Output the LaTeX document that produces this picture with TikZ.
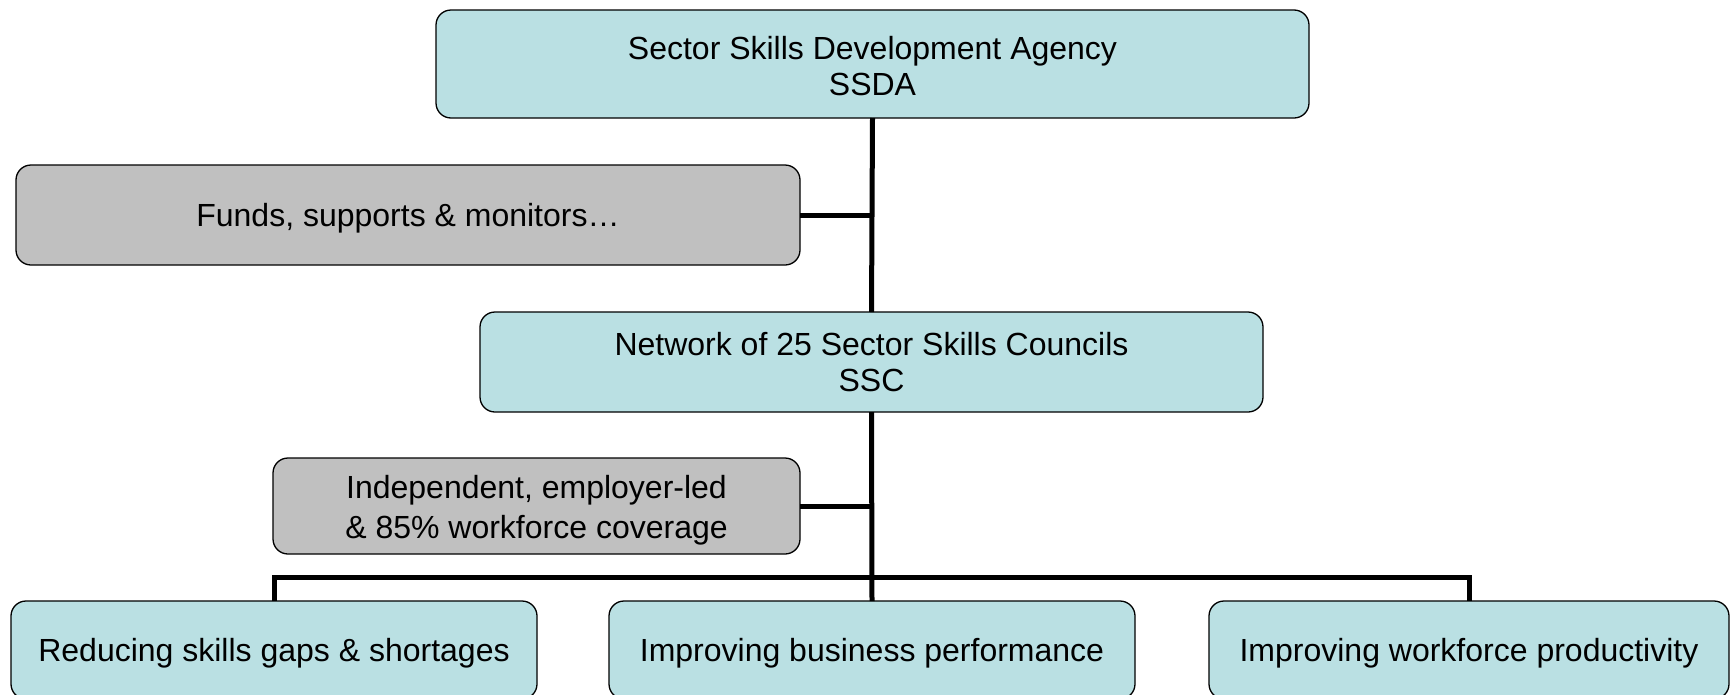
\documentclass[tikz,border=0pt]{standalone}
\usepackage{fontspec}
\setmainfont{Liberation Sans}
\definecolor{boxcyan}{RGB}{186,224,227}
\definecolor{boxgray}{RGB}{192,192,192}
\newcommand{\lowertext}[2]{\raisebox{-#1}[\height][\depth]{\begin{tabular}{@{}c@{}}#2\end{tabular}}}
\begin{document}
\begin{tikzpicture}[x=1pt,y=-1pt,
  box/.style={draw=black,line width=1.3pt,rounded corners=15pt,inner sep=0pt,outer sep=0pt,
    align=center,font=\fontsize{32}{36}\selectfont},
  cyanbox/.style={box,fill=boxcyan},
  graybox/.style={box,fill=boxgray},
  conn/.style={draw=black,line width=5pt}]
\useasboundingbox (0,0) rectangle (1730,694);
\node[cyanbox,minimum width=873pt,minimum height=108pt] (ssda) at (872.5,64) {\lowertext{6.5pt}{Sector Skills Development Agency\\SSDA}};
\node[graybox,minimum width=784pt,minimum height=100pt] (funds) at (408,215) {\lowertext{4pt}{Funds, supports \& monitors…}};
\node[cyanbox,minimum width=783pt,minimum height=100pt] (ssc) at (871.5,362) {Network of 25 Sector Skills Councils\\SSC};
\node[graybox,minimum width=527pt,minimum height=96pt,font=\fontsize{32}{40}\selectfont] (indep) at (536.5,506) {\lowertext{4pt}{Independent, employer-led\\\& 85\% workforce coverage}};
\node[cyanbox,minimum width=526pt,minimum height=98pt] (b1) at (274,650) {\lowertext{4pt}{Reducing skills gaps \& shortages}};
\node[cyanbox,minimum width=526pt,minimum height=98pt] (b2) at (872,650) {\lowertext{4pt}{Improving business performance}};
\node[cyanbox,minimum width=520pt,minimum height=98pt] (b3) at (1469,650) {\lowertext{4pt}{Improving workforce productivity}};
\coordinate (busy) at (0,577);
\draw[conn] (ssda.south) -- (ssc.north);
\draw[conn] (funds.east) -- (funds.east -| ssda.south);
\draw[conn] (ssc.south) -- (b2.north);
\draw[conn] (indep.east) -- (indep.east -| ssc.south);
\draw[conn,line join=miter] (b1.north) -- (b1.north |- busy) -- (b3.north |- busy) -- (b3.north);
\end{tikzpicture}
\end{document}
